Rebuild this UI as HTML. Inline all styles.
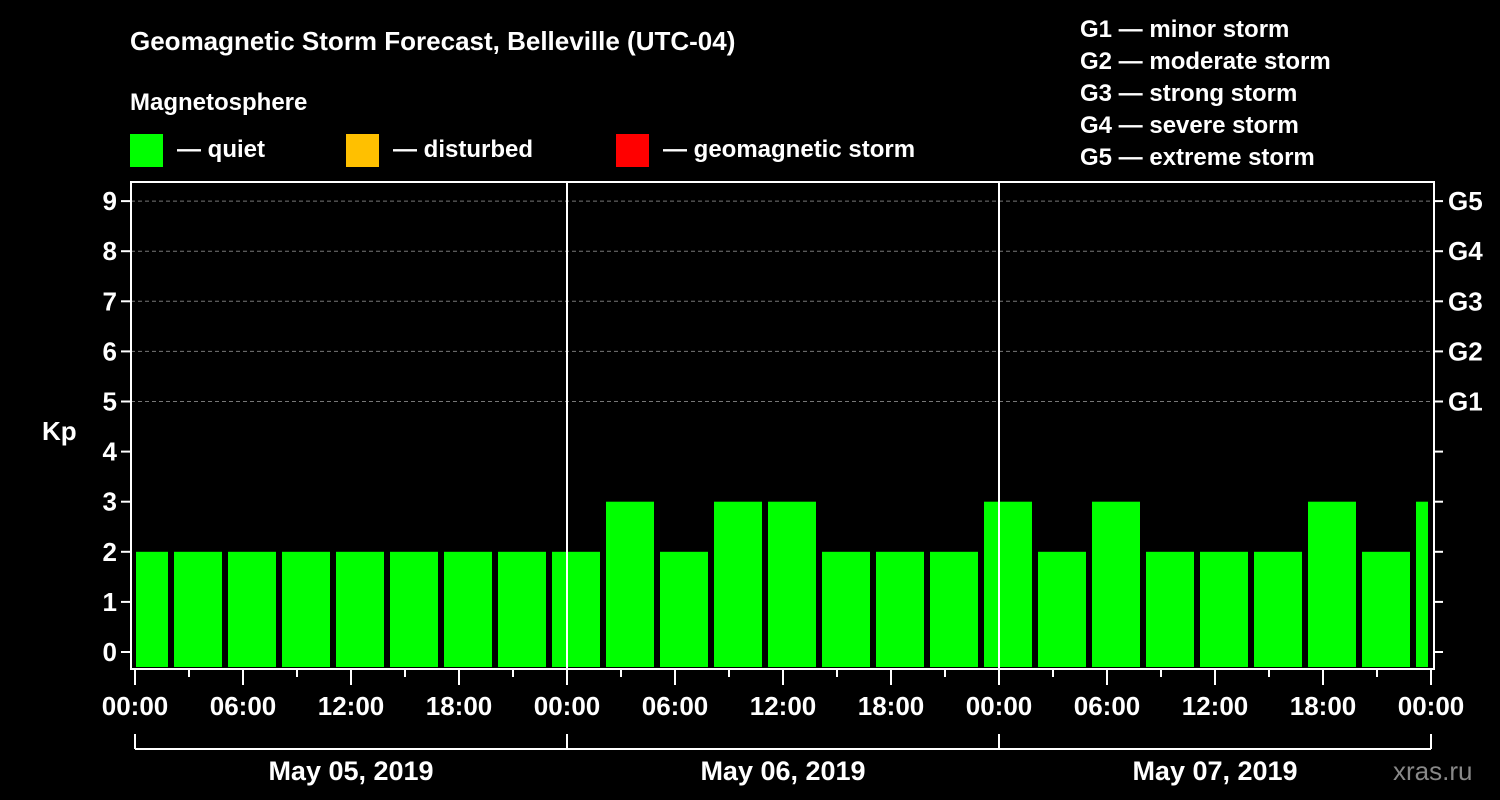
<!DOCTYPE html>
<html><head><meta charset="utf-8"><style>
body{margin:0;background:#000}
svg{display:block;font-family:"Liberation Sans",Arial,sans-serif;font-weight:bold}
</style></head><body>
<svg id="c" width="1500" height="800" viewBox="0 0 1500 800">
<rect width="1500" height="800" fill="#000"/>
<text x="130" y="50" fill="#fff" font-size="26">Geomagnetic Storm Forecast, Belleville (UTC-04)</text>
<text x="130" y="110" fill="#fff" font-size="24">Magnetosphere</text>
<g><rect x="130" y="134" width="33" height="33" fill="#00ff00"/><text x="177" y="157" fill="#fff" font-size="24">— quiet</text></g>
<g><rect x="346" y="134" width="33" height="33" fill="#ffc000"/><text x="393" y="157" fill="#fff" font-size="24">— disturbed</text></g>
<g><rect x="616" y="134" width="33" height="33" fill="#ff0000"/><text x="663" y="157" fill="#fff" font-size="24">— geomagnetic storm</text></g>
<g fill="#fff" font-size="24">
<text x="1080" y="37">G1 — minor storm</text><text x="1080" y="69">G2 — moderate storm</text><text x="1080" y="101">G3 — strong storm</text><text x="1080" y="133">G4 — severe storm</text><text x="1080" y="165">G5 — extreme storm</text>
</g>
<text x="42" y="440" fill="#fff" font-size="26">Kp</text>
<text x="1393" y="780" fill="#888" font-size="26" font-weight="normal">xras.ru</text>
<g id="plot"></g>
</svg>
<script>
const kpValues=[2,2,2,2,2,2,2,2,2,3,2,3,3,2,2,2,3,2,3,2,2,2,3,2,3];
const yTicks=[0,1,2,3,4,5,6,7,8,9];
const gLabels=["G1","G2","G3","G4","G5"];
const xTickLabels=["00:00","06:00","12:00","18:00","00:00","06:00","12:00","18:00","00:00","06:00","12:00","18:00","00:00"];
const dateLabels=["May 05, 2019","May 06, 2019","May 07, 2019"];
const firstBarStartHour=-1;
const NS="http://www.w3.org/2000/svg";
const g=document.getElementById('plot');
const x0=135,pxH=18,L=131,R=1434,T=182,B=669;
const xs=h=>x0+h*pxH;
const ys=v=>652-v*50.1;
function el(t,a,p){const e=document.createElementNS(NS,t);for(const k in a)e.setAttribute(k,a[k]);(p||g).appendChild(e);return e;}
// grid
yTicks.filter(v=>v>=5).forEach(v=>{const l=el('line',{x1:L,x2:R,y1:ys(v),y2:ys(v),stroke:'#777','stroke-dasharray':'4,3','stroke-width':1});

});
// bars
kpValues.forEach((v,i)=>{let a=xs(firstBarStartHour+3*i)+3,b=xs(firstBarStartHour+3*i+3)-3;
a=Math.max(a,L+5);b=Math.min(b,R-6);
const col=v>=5?'#ff0000':(v>=4?'#ffc000':'#00ff00');
const r=el('rect',{x:a,y:ys(v),width:b-a,height:B-2-ys(v),fill:col});

});
// day lines
[1,2].forEach(d=>{const l=el('line',{x1:xs(24*d),x2:xs(24*d),y1:T,y2:B,stroke:'#fff','stroke-width':2});

});
// frame
const f=el('rect',{x:L,y:T,width:R-L,height:B-T,fill:'none',stroke:'#fff','stroke-width':2});


// y ticks
yTicks.forEach(v=>{el('line',{x1:L-10,x2:L,y1:ys(v),y2:ys(v),stroke:'#fff','stroke-width':2});
el('line',{x1:R,x2:R+9,y1:ys(v),y2:ys(v),stroke:'#fff','stroke-width':2});
const t=el('text',{x:L-14,y:ys(v)+9,fill:'#fff','font-size':26,'text-anchor':'end'});t.textContent=v;


if(v>=5){const t2=el('text',{x:R+14,y:ys(v)+9,fill:'#fff','font-size':26});t2.textContent=gLabels[v-5];

}});
// x ticks
for(let h=0;h<=72;h+=3){const major=h%6===0;el('line',{x1:xs(h),x2:xs(h),y1:B,y2:B+(major?16:8),stroke:'#fff','stroke-width':2});}
xTickLabels.forEach((s,i)=>{const t=el('text',{x:xs(6*i),y:715,fill:'#fff','font-size':26,'text-anchor':'middle'});t.textContent=s;

});
// date bracket
el('line',{x1:xs(0),x2:xs(72),y1:749,y2:749,stroke:'#fff','stroke-width':2});
[0,1,2,3].forEach(d=>el('line',{x1:xs(24*d),x2:xs(24*d),y1:734,y2:749,stroke:'#fff','stroke-width':2}));
dateLabels.forEach((s,i)=>{const t=el('text',{x:xs(24*i+12),y:780,fill:'#fff','font-size':27,'text-anchor':'middle'});t.textContent=s;

});
</script>
</body></html>
